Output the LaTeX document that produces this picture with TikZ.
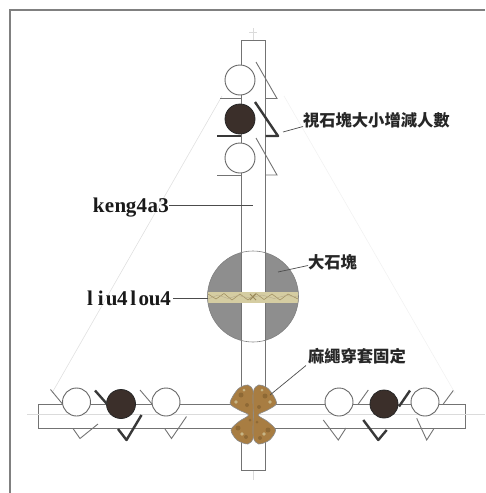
\documentclass[tikz,border=0pt]{standalone}
\usepackage{fontspec}
\setmainfont{Liberation Serif}
\newfontfamily\cjk{Noto Sans CJK TC}
\usetikzlibrary{calc}
% fixed-pitch setting of a short latin word
\newcommand\monoword[1]{\monoloop#1\relax}
\def\monoloop#1{\ifx\relax#1\else\makebox[10.8pt]{#1}\expandafter\monoloop\fi}
\definecolor{headbrown}{HTML}{3B2F2A}
\definecolor{stonegray}{HTML}{8E8E8E}
\definecolor{ropetan}{HTML}{D5CDA2}
\definecolor{ropestreak}{HTML}{9C8B5C}
\definecolor{knotbrown}{HTML}{A87D42}
\definecolor{knotdark}{HTML}{7A5A2C}
\begin{document}
\begin{tikzpicture}[x=1pt,y=-1pt,
  frame/.style={draw=black!50, line width=1.1pt},
  guide/.style={draw=black!14, line width=0.6pt},
  timber/.style={draw=black!55, fill=white, line width=0.9pt},
  head/.style={draw=black!60, fill=white, line width=0.9pt},
  darkhead/.style={draw=black!85, fill=headbrown, line width=0.8pt},
  arm/.style={draw=black!55, line width=0.9pt},
  thickarm/.style={draw=black!78, line width=2.4pt, line join=round},
  leader/.style={draw=black!70, line width=0.7pt},
  cjklabel/.style={font=\cjk\bfseries\fontsize{16.3}{17}\selectfont, text=black!85, inner sep=0pt, outer sep=0pt},
  latinlabel/.style={font=\bfseries\fontsize{21}{22}\selectfont, text=black!90, inner sep=0pt, outer sep=0pt},
]
\useasboundingbox (0,0) rectangle (485,493);

% sheet border
\draw[frame] (485,10) -- (10,10) -- (10,493);

% construction guides
\draw[guide] (253,28) -- (253,480);
\draw[guide] (249,32) -- (257,32);
\draw[draw=black!12, line width=0.6pt] (222,96) -- (52,393);
\draw[draw=black!5, line width=0.6pt] (284,96) -- (455,393);

% the large stone
\fill[stonegray] (253,296.5) circle[radius=45.5pt];

% upright pole
\draw[timber] (241,40) rectangle (265.5,470);

% rope lashing round the stone
\begin{scope}
  \clip (253,296.5) circle[radius=45.5pt];
  \fill[ropetan] (200,291.5) rectangle (306,302.5);
  \draw[ropestreak, line width=0.5pt]
    (208,294) -- (216,299) -- (224,293.5) -- (232,300) -- (240,294) -- (248,300)
    -- (256,293.5) -- (264,299.5) -- (272,294) -- (280,300) -- (288,294) -- (298,299);
  \draw[ropestreak!70, line width=0.4pt]
    (208,299) -- (218,295) -- (228,298.5) -- (238,295.5) -- (250,298) -- (262,295)
    -- (274,298.5) -- (286,295.5) -- (298,297);
  \draw[ropestreak, line width=0.8pt] (250,294) -- (256,300) (256,294) -- (250,300);
\end{scope}
\draw[black!50, line width=0.6pt] (253,296.5) circle[radius=45.5pt];

% cross beam
\draw[timber] (38,404) rectangle (465,428);
\draw[guide] (27,414) -- (485,414);

% bearers along the pole
\draw[head] (240,80) circle[radius=15pt];
\draw[arm] (220,98.5) -- (241,98.5);
\draw[arm] (256,62) -- (277,98.5) -- (265.5,98.5);
\draw[darkhead] (240,119) circle[radius=15pt];
\draw[thickarm] (217,136) -- (241,136);
\draw[thickarm] (255,102) -- (278,136) -- (265.5,136);
\draw[head] (240,158) circle[radius=15pt];
\draw[arm] (217,175) -- (241,175);
\draw[arm] (256,138) -- (277,175) -- (265.5,175);

% bearers along the beam, left side
\draw[head] (76.5,402) circle[radius=14pt];
\draw[arm] (50.5,389.5) -- (62.5,404);
\draw[arm] (73,428.5) -- (80,438.5) -- (98,424);
\draw[darkhead] (121,404) circle[radius=14.5pt];
\draw[thickarm] (95,390.5) -- (107,404);
\draw[thickarm] (118,429) -- (126.5,440) -- (141.5,415);
\draw[head] (166,402) circle[radius=14pt];
\draw[arm] (140,390) -- (152,404);
\draw[arm] (165,429) -- (171.5,438.5) -- (186.5,416.5);

% bearers along the beam, right side
\draw[head] (339,402) circle[radius=14pt];
\draw[arm] (358.3,404) -- (368.3,390);
\draw[arm] (323.3,420) -- (338.3,440) -- (346,428);
\draw[darkhead] (384,404) circle[radius=14pt];
\draw[thickarm] (399,406.5) -- (410,390.5);
\draw[thickarm] (363.3,420) -- (378.3,440) -- (386.7,430);
\draw[head] (425,402) circle[radius=14pt];
\draw[arm] (443.3,404) -- (453.3,390.5);
\draw[arm] (416.7,418.3) -- (426.7,440) -- (434,428.5);

% hemp-rope binding at the joint
\filldraw[fill=knotbrown, draw=black!45, line width=0.6pt]
  plot[smooth cycle, tension=0.5] coordinates {(248,385) (238,389) (230,403) (239,410)
    (248.5,415) (239,421.5) (231,430) (237,440) (248,444) (253.3,437) (253.3,415) (253.3,392)};
\filldraw[fill=knotbrown, draw=black!45, line width=0.6pt]
  plot[smooth cycle, tension=0.5] coordinates {(258.6,385) (268.6,389) (276.6,403) (267.6,410)
    (258.1,415) (267.6,421.5) (275.6,430) (269.6,440) (258.6,444) (253.3,437) (253.3,415) (253.3,392)};
\fill[knotdark, opacity=0.55]
  (241,395) circle[radius=2.5pt] (247,405) circle[radius=2pt] (238,428) circle[radius=2.5pt]
  (246,437) circle[radius=2pt] (265,396) circle[radius=2.5pt] (259,407) circle[radius=2pt]
  (268,430) circle[radius=2.5pt] (260,438) circle[radius=2pt] (250,420) circle[radius=1.5pt]
  (257,422) circle[radius=1.5pt];
\fill[ropetan, opacity=0.7]
  (236,402) circle[radius=1.8pt] (244,390) circle[radius=1.5pt] (242,434) circle[radius=1.8pt]
  (270,402) circle[radius=1.8pt] (262,390) circle[radius=1.5pt] (264,434) circle[radius=1.8pt];

% labels and leaders
\node[cjklabel, anchor=base west] (lblcount) at (303,126.5) {視石塊大小增減人數};
\coordinate (countpt) at (283,132);
\draw[leader] (countpt) -- (lblcount.base west);

\node[latinlabel, anchor=base east] (lblkeng) at (169,212.7) {\monoword{keng4a3}};
\coordinate (kengpt) at (253,205);
\draw[leader] ([yshift=7.7pt]lblkeng.base east) -- (kengpt);

\node[cjklabel, anchor=base west] (lblstone) at (308,268.5) {大石塊};
\coordinate (stonept) at (278,272);
\draw[leader] (stonept) -- ([yshift=3pt]lblstone.base west);

\node[latinlabel, anchor=base east] (lblliu) at (171,305) {\monoword{liu4lou4}};
\coordinate (liupt) at (208,298.3);
\draw[leader] ([yshift=6.7pt,xshift=2pt]lblliu.base east) -- (liupt);

\node[cjklabel, anchor=base west] (lblrope) at (308,362.5) {麻繩穿套固定};
\coordinate (ropept) at (270,395);
\draw[leader] (ropept) -- ([yshift=-3pt,xshift=-2pt]lblrope.base west);
\end{tikzpicture}
\end{document}
